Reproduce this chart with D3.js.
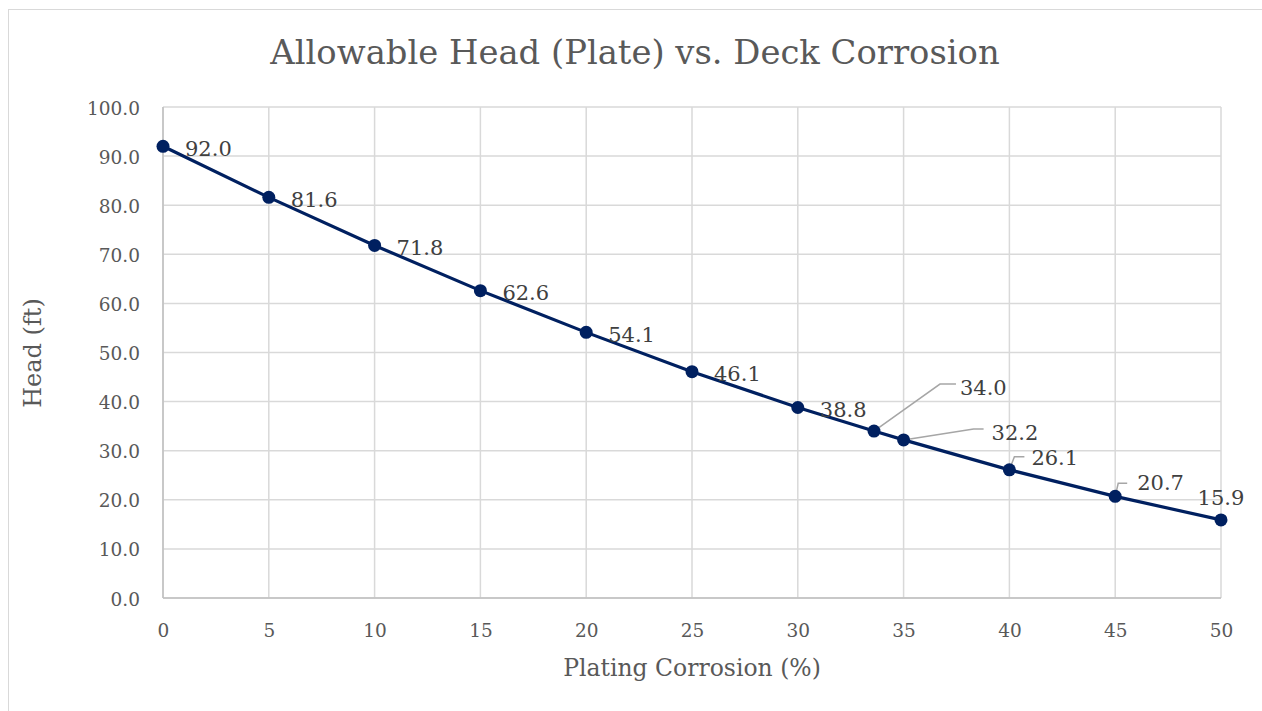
<!DOCTYPE html>
<html>
<head>
<meta charset="utf-8">
<script src="https://cdn.jsdelivr.net/npm/d3@7"></script>
<style>
  html, body { margin: 0; padding: 0; background: #fff; }
  svg { display: block; font-family: "DejaVu Serif", "Liberation Serif", serif; }
</style>
</head>
<body>
<svg id="chart" width="1262" height="711"></svg>
<script>
// Data
const corrosion = [0, 5, 10, 15, 20, 25, 30, 33.6, 35, 40, 45, 50];
const head = [92.0, 81.6, 71.8, 62.6, 54.1, 46.1, 38.8, 34.0, 32.2, 26.1, 20.7, 15.9];
const xTicks = [0, 5, 10, 15, 20, 25, 30, 35, 40, 45, 50];
const yTicks = [0, 10, 20, 30, 40, 50, 60, 70, 80, 90, 100];
const titleText = "Allowable Head (Plate) vs. Deck Corrosion";
const xTitle = "Plating Corrosion (%)";
const yTitle = "Head (ft)";

// Label placement (pixel offsets of label anchor from point; leader lines where used)
const labelPlacement = [
  {dx: 22, dy: 2, anchor: "start"},
  {dx: 22, dy: 2, anchor: "start"},
  {dx: 22, dy: 2, anchor: "start"},
  {dx: 22, dy: 2, anchor: "start"},
  {dx: 22, dy: 2, anchor: "start"},
  {dx: 22, dy: 2, anchor: "start"},
  {dx: 22, dy: 2, anchor: "start"},
  {dx: 86, dy: -43, anchor: "start", leader: [[66, -47], [82, -47]]},
  {dx: 88, dy: -7, anchor: "start", leader: [[70, -11], [80, -11]]},
  {dx: 22, dy: -12, anchor: "start", leader: [[5, -13], [15, -13]]},
  {dx: 22, dy: -14, anchor: "start", leader: [[3, -13], [12, -13]]},
  {dx: 0, dy: -22, anchor: "middle"}
];

const svg = d3.select("#chart");
const W = 1262, H = 711;

// chart border
svg.append("rect")
  .attr("x", 8.5).attr("y", 9.5)
  .attr("width", W + 10).attr("height", H + 10)
  .attr("fill", "#fff").attr("stroke", "#d9d9d9").attr("stroke-width", 1);

const m = {left: 163, right: 1221, top: 107, bottom: 598};
const x = d3.scaleLinear().domain([0, 50]).range([m.left, m.right]);
const y = d3.scaleLinear().domain([0, 100]).range([m.bottom, m.top]);

// gridlines
const grid = svg.append("g");
grid.selectAll("line.h").data(yTicks).enter().append("line")
  .attr("x1", m.left).attr("x2", m.right)
  .attr("y1", d => y(d)).attr("y2", d => y(d))
  .attr("stroke", "#d9d9d9").attr("stroke-width", 1.5);
grid.selectAll("line.v").data(xTicks).enter().append("line")
  .attr("y1", m.top).attr("y2", m.bottom)
  .attr("x1", d => x(d)).attr("x2", d => x(d))
  .attr("stroke", "#d9d9d9").attr("stroke-width", 1.5);

// axes lines
svg.append("line").attr("x1", m.left).attr("x2", m.left).attr("y1", m.top).attr("y2", m.bottom)
  .attr("stroke", "#bfbfbf").attr("stroke-width", 1.5);
svg.append("line").attr("x1", m.left).attr("x2", m.right).attr("y1", m.bottom).attr("y2", m.bottom)
  .attr("stroke", "#bfbfbf").attr("stroke-width", 1.5);

// axes via d3
const yAxis = d3.axisLeft(y).tickValues(yTicks).tickFormat(d3.format(".1f")).tickSize(0).tickPadding(23);
const gy = svg.append("g").attr("transform", `translate(${m.left},0)`).call(yAxis);
gy.select(".domain").remove();
gy.selectAll("text").attr("fill", "#595959").style("font-size", "18.5px").style("font-family", "DejaVu Serif").attr("dy", "0.38em");

const xAxis = d3.axisBottom(x).tickValues(xTicks).tickFormat(d3.format("d")).tickSize(0).tickPadding(26);
const gx = svg.append("g").attr("transform", `translate(0,${m.bottom})`).call(xAxis);
gx.select(".domain").remove();
gx.selectAll("text").attr("fill", "#595959").style("font-size", "18.5px").style("font-family", "DejaVu Serif");

// title
svg.append("text").attr("x", 635).attr("y", 64).attr("text-anchor", "middle")
  .attr("fill", "#595959").style("font-size", "33.8px").text(titleText);

// axis titles
svg.append("text").attr("x", 692).attr("y", 676).attr("text-anchor", "middle")
  .attr("fill", "#595959").style("font-size", "23.5px").text(xTitle);
svg.append("text").attr("transform", "translate(41,353) rotate(-90)").attr("text-anchor", "middle")
  .attr("fill", "#595959").style("font-size", "24px").text(yTitle);

// line
const pts = corrosion.map((c, i) => ({x: c, y: head[i], p: labelPlacement[i]}));
svg.append("path").datum(pts)
  .attr("d", d3.line().x(d => x(d.x)).y(d => y(d.y)))
  .attr("fill", "none").attr("stroke", "#002060").attr("stroke-width", 3.2);

// leader lines
pts.forEach(d => {
  if (d.p.leader) {
    const px = x(d.x), py = y(d.y);
    const path = d3.path();
    path.moveTo(px, py);
    d.p.leader.forEach(([lx, ly]) => path.lineTo(px + lx, py + ly));
    svg.append("path").attr("d", path.toString()).attr("fill", "none")
      .attr("stroke", "#a6a6a6").attr("stroke-width", 1.5);
  }
});

// markers
svg.selectAll("circle.pt").data(pts).enter().append("circle")
  .attr("cx", d => x(d.x)).attr("cy", d => y(d.y)).attr("r", 6.5)
  .attr("fill", "#002060");

// data labels
svg.selectAll("text.lbl").data(pts).enter().append("text")
  .attr("x", d => x(d.x) + d.p.dx).attr("y", d => y(d.y) + d.p.dy)
  .attr("dy", "0.35em").attr("text-anchor", d => d.p.anchor)
  .attr("fill", "#404040").style("font-size", "21px")
  .text(d => d3.format(".1f")(d.y));
</script>
</body>
</html>
